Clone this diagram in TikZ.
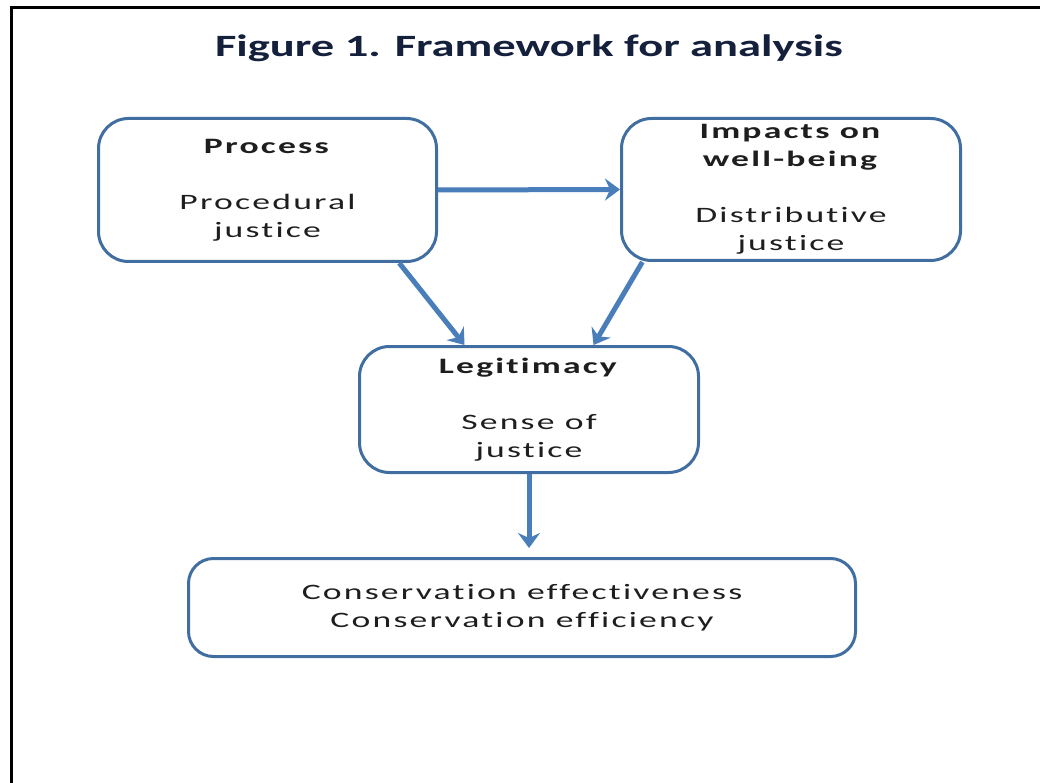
\documentclass[tikz,border=0pt]{standalone}
\usepackage{fontspec}
\setmainfont{Carlito}[FakeStretch=1.62,LetterSpace=10,Ligatures={NoCommon}]
\newfontfamily\titlefont{Carlito}[FakeStretch=1.5,Ligatures={NoCommon}]
\usetikzlibrary{arrows.meta}
\definecolor{boxline}{RGB}{65,110,160}
\definecolor{arrowblue}{RGB}{74,126,187}
\definecolor{titlenavy}{RGB}{20,32,60}
\definecolor{bodytext}{RGB}{30,30,30}
\tikzset{
  box/.style={draw=boxline, line width=3pt, rounded corners=30pt, align=center,
    inner sep=0pt, text=bodytext, font=\fontsize{22}{28}\selectfont},
  flow/.style={draw=arrowblue, line width=5pt,
    -{Stealth[length=15pt,width=22pt,inset=5pt]}}
}

\begin{document}
\begin{tikzpicture}[x=1pt,y=-1pt]
    \useasboundingbox (0,0) rectangle (1040,783);
    % Frame
    \draw[line width=3pt] (11,783) -- (11,8) -- (1040,8);
    \node[text=titlenavy, font=\titlefont\fontsize{31}{36}\selectfont\bfseries] (title) at (529,48) {Figure 1. Framework for analysis};

    % Boxes
    \node[box, minimum width=338pt, minimum height=143pt] (proc) at (267.5,190)
        {\textbf{Process}\\[28pt]Procedural\\justice};
    \node[box, minimum width=339pt, minimum height=142pt] (impact) at (791,189.5)
        {\textbf{Impacts on}\\\textbf{well-being}\\[28pt]Distributive\\justice};
    \node[box, minimum width=339pt, minimum height=126pt] (legit) at (529,409.5)
        {\textbf{Legitimacy}\\[28pt]Sense of\\justice};
    \node[box, rounded corners=25pt, minimum width=667pt, minimum height=98pt] (outcome) at (522,607.5)
        {Conservation effectiveness\\Conservation efficiency};

    % Arrows
    \draw[flow] (proc.east) -- (impact.west);
    \draw[flow] (proc.-29) -- (legit.135);
    \draw[flow] (impact.206) -- (legit.45);
    \draw[flow, shorten >=9pt] (legit.south) -- (legit.south |- outcome.north);
\end{tikzpicture}
\end{document}
